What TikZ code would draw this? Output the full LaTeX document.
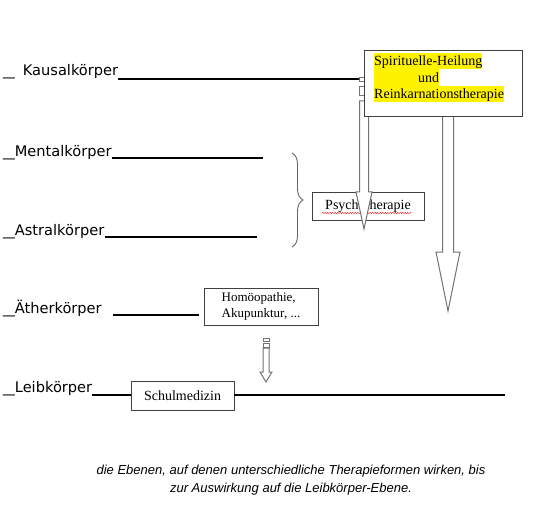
\documentclass[tikz,border=0pt]{standalone}
\usepackage{fontspec}
\setmainfont{Liberation Serif}
\newfontfamily\handfont{DejaVu Sans}
\newfontfamily\capfont{Liberation Sans}
\usetikzlibrary{decorations.pathreplacing,decorations.pathmorphing}

% block arrow pointing down: centre x, top, neck, tip, half shaft, half head
\newcommand{\blockdown}[6]{%
  \filldraw[blockarrow] ({#1-#5},#2) -- ({#1+#5},#2) -- ({#1+#5},#3) -- ({#1+#6},#3)
    -- (#1,#4) -- ({#1-#6},#3) -- ({#1-#5},#3) -- cycle;}
\newcommand{\lowbar}{\scalebox{1.6}[1]{\_}}

\begin{document}
\begin{tikzpicture}[x=1pt, y=-1pt,
  level/.style={anchor=base west, inner sep=0, font=\handfont\fontsize{14.6}{16}\selectfont},
  rule/.style={line width=1.3pt, black},
  box/.style={draw=black!75, line width=0.8pt, fill=white, inner sep=0},
  hl/.style={fill=yellow, inner sep=0, text height=13pt, text depth=3.5pt, font=\fontsize{14}{16}\selectfont},
  blockarrow/.style={draw=black!55, fill=white, line width=1pt}]
  \useasboundingbox (0,0) rectangle (536,524);

  % levels
  \node[level] (kausal) at (3,76) {\lowbar\hspace{8pt}Kausalkörper};
  \node[level] (mental) at (3,157) {\lowbar Mentalkörper};
  \node[level] (astral) at (3,236) {\lowbar Astralkörper};
  \node[level] (aether) at (3,313) {\lowbar Ätherkörper};
  \node[level] (leib) at (3,392) {\lowbar Leibkörper};

  \draw[rule] (kausal.base east |- 0,79) -- (360,79);
  \draw[rule] (mental.base east |- 0,158) -- (263,158);
  \draw[rule] (astral.base east |- 0,237) -- (257,237);
  \draw[rule] ([xshift=11pt]aether.base east |- 0,315) -- (199,315);

  % therapies
  \node[box, minimum width=112pt, minimum height=28pt] (psycho) at (368,206)
    {\fontsize{14}{16}\selectfont Psychotherapie};
  \draw[red, line width=0.4pt, decorate, decoration={snake, amplitude=0.6pt, segment length=2.5pt}]
    (322,213) -- (412,213);
  \node[box, minimum width=114pt, minimum height=37pt, align=left,
    font=\fontsize{13}{16}\selectfont] (homoeo) at (261,306.5) {Homöopathie,\\Akupunktur, ...};
  \node[box, minimum width=103pt, minimum height=29pt] (schul) at (182.5,395.5)
    {\fontsize{14}{16}\selectfont Schulmedizin};
  \draw[rule] (leib.base east |- 0,395) -- (schul.west |- 0,395);
  \draw[rule] (schul.east |- 0,395) -- (505,395);

  \draw[black!60, line width=0.9pt, decorate, decoration={brace, amplitude=11pt}]
    (292,153) -- (292,247);

  % arrows
  \filldraw[blockarrow] (359.5,78) rectangle (368.5,82);
  \filldraw[blockarrow] (359.5,87) rectangle (368.5,96);
  \blockdown{364}{101}{192}{229}{4.5}{8}
  \blockdown{448}{110}{252}{311}{5.5}{12}
  \filldraw[blockarrow] (263,338) rectangle (269,341);
  \filldraw[blockarrow] (263,343) rectangle (269,347);
  \blockdown{266}{348}{372}{382}{3}{6}

  \node[box, minimum width=158pt, minimum height=66pt, anchor=north west] (spirit) at (364,50) {};
  \node[hl, anchor=base west] (spirit1) at (374,66) {Spirituelle-Heilung};
  \node[hl, anchor=base west, text width=65pt, align=right] (spirit2) at (374,82.5) {und};
  \node[hl, anchor=base west] (spirit3) at (374,99) {Reinkarnationstherapie};

  % caption
  \node[align=center, font=\capfont\itshape\fontsize{13}{18}\selectfont] (caption) at (291,480)
    {die Ebenen, auf denen unterschiedliche Therapieformen wirken, bis\\
     zur Auswirkung auf die Leibkörper-Ebene.};
\end{tikzpicture}
\end{document}
